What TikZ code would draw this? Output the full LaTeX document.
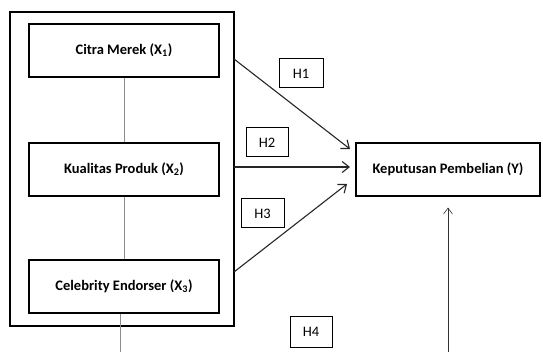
\documentclass[tikz,border=0pt]{standalone}
\usepackage{fontspec}
\setmainfont{Carlito}
\usetikzlibrary{positioning, arrows.meta}

\begin{document}
\begin{tikzpicture}[
    x=1pt, y=-1pt,
    var/.style={rectangle, draw, line width=1.1pt, minimum width=190pt, minimum height=53pt, font=\bfseries\fontsize{14.5}{16}\selectfont},
    hyp/.style={rectangle, draw, line width=1pt, minimum width=42pt, minimum height=29pt, font=\fontsize{14.5}{16}\selectfont},
    arrow/.style={-{Straight Barb[length=7pt, width=11pt]}, line width=1.1pt, black!85},
    link/.style={thin, black!45},
]

% canvas
\useasboundingbox (0,0) rectangle (543,352);

% Independent variables
\node[draw, line width=1.2pt, minimum width=224pt, minimum height=314pt] (outer) at (122,169) {};
\node[var] (citra) at (124,50.5) {Citra Merek (X\textsubscript{1})};
\node[var] (kualitas) at (124,169.5) {Kualitas Produk (X\textsubscript{2})};
\node[var] (celeb) at (124,286.5) {Celebrity Endorser (X\textsubscript{3})};

% Dependent variable
\node[var, minimum width=184pt] (kp) at (448,169.5) {Keputusan Pembelian (Y)};

% Hypothesis labels
\node[hyp, minimum width=44pt] (h1) at (301,73.5) {H1};
\node[hyp] (h2) at (267,142.5) {H2};
\node[hyp, minimum width=43pt] (h3) at (262.5,213.5) {H3};
\node[hyp, minimum height=30pt] (h4) at (311,332) {H4};

% Arrow ends
\coordinate (s1) at (234,59);
\coordinate (s2) at (234,167);
\coordinate (s3) at (234,272);
\coordinate (e1) at (350,149);
\coordinate (e2) at (350,167);
\coordinate (e3) at (347,184);
\coordinate (xbot) at (120,352);
\coordinate (ybot) at (448,352);

% Links between variables
\draw[link] (citra.south) -- (kualitas.north);
\draw[link] (kualitas.south) -- (celeb.north);
\draw[link] (celeb.south -| xbot) -- (xbot);

% Hypothesis arrows
\draw[arrow] (s1) -- (e1);
\draw[arrow] (s2) -- (e2);
\draw[arrow] (s3) -- (e3);
\draw[-{Straight Barb[length=6pt, width=9pt]}, line width=0.6pt, black!80, shorten >=11pt] (ybot) -- (kp.south);

\end{tikzpicture}
\end{document}
